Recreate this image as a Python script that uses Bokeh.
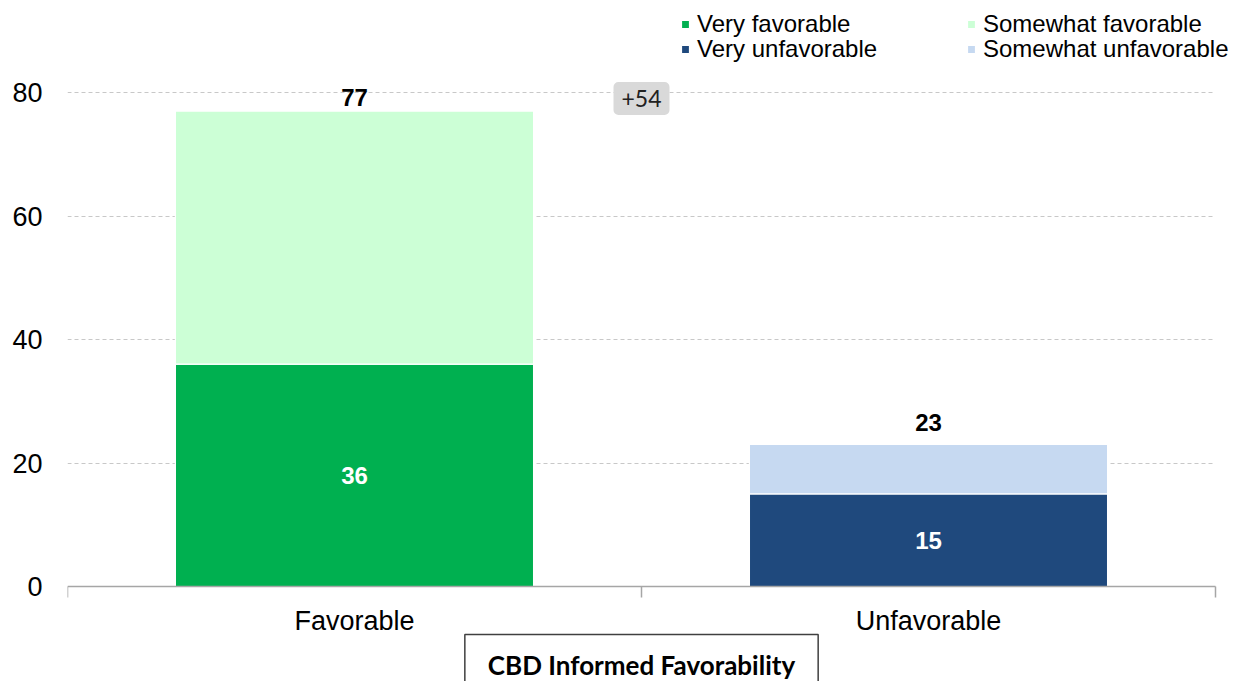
from bokeh.plotting import figure
from bokeh.models import Range1d, FixedTicker, Legend, LegendItem, Label, ColumnDataSource, LabelSet
from bokeh.core.properties import value
from bokeh.embed import file_html
from bokeh.resources import INLINE

categories = ["Favorable", "Unfavorable"]
very = [36, 15]
somewhat = [41, 8]
very_labels = ["Very favorable", "Very unfavorable"]
somewhat_labels = ["Somewhat favorable", "Somewhat unfavorable"]
y_ticks = [0, 20, 40, 60, 80]
title_text = "CBD Informed Favorability"

very_colors = ["#00B050", "#1F497D"]
somewhat_colors = ["#CCFFD6", "#C6D9F1"]

xs = [i + 0.5 for i in range(len(categories))]
totals = [a + b for a, b in zip(very, somewhat)]
mids = [v / 2 for v in very]

src = ColumnDataSource(dict(x=xs, very=very, total=totals, mid=mids,
                            vc=very_colors, sc=somewhat_colors,
                            vtxt=[str(v) for v in very], ttxt=[str(t) for t in totals],
                            toff=[5, 13]))

W, H = 1240, 681
n = len(categories)
p = figure(width=W, height=H, x_range=Range1d(0, n + 25 / 574), y_range=Range1d(-15.38, 94.9),
           output_backend="svg", toolbar_location=None,
           min_border_left=67, min_border_right=0, min_border_top=0, min_border_bottom=0)
p.outline_line_color = None
p.background_fill_color = "white"

r_very = p.vbar(x='x', bottom=0, top='very', width=0.624, fill_color='vc', line_color='white',
                line_width=1.2, source=src)
r_some = p.vbar(x='x', bottom='very', top='total', width=0.624, fill_color='sc', line_color='white',
                line_width=1.2, source=src)

# labels
p.add_layout(LabelSet(x='x', y='mid', text='vtxt', source=src, text_align='center', text_baseline='middle',
                      text_color='white', text_font=value("Liberation Sans"), text_font_style='bold',
                      text_font_size='24px'))
p.add_layout(LabelSet(x='x', y='total', text='ttxt', source=src, text_align='center', text_baseline='alphabetic',
                      y_offset='toff', text_color='black', text_font=value("Liberation Sans"),
                      text_font_style='bold', text_font_size='24px'))

diff = totals[0] - totals[1]
p.add_layout(Label(x=1.0, y=80, text=f"+{diff}", text_align='center', text_baseline='middle', y_offset=-6,
                   text_font="Lato", text_font_size="23px", text_color="#222222",
                   background_fill_color="#D9D9D9", border_line_color=None,
                   padding=(8, 8), border_radius=5))

# axes
p.xgrid.grid_line_color = None
p.ygrid.ticker = FixedTicker(ticks=y_ticks[1:])
p.ygrid.grid_line_color = "#C8C8C8"
p.ygrid.grid_line_dash = "4 3"
p.ygrid.grid_line_width = 1
try:
    p.ygrid.cross_bounds = (0, n)
except Exception:
    pass

p.yaxis.ticker = FixedTicker(ticks=y_ticks)
p.yaxis.axis_line_color = None
p.yaxis.major_tick_line_color = None
p.yaxis.minor_tick_line_color = None
p.yaxis.major_tick_out = 0
p.yaxis.major_label_text_font = "Liberation Sans"
p.yaxis.major_label_text_font_size = "27px"
p.yaxis.major_label_text_color = "#000000"
p.yaxis.major_label_standoff = 25

xa = p.xaxis[0]
xa.fixed_location = 0
xa.bounds = (0, n)
xa.ticker = FixedTicker(ticks=xs, minor_ticks=list(range(n + 1)))
xa.major_label_overrides = {x: c for x, c in zip(xs, categories)}
xa.axis_line_color = "#A6A6A6"
xa.axis_line_width = 1.5
xa.major_tick_line_color = None
xa.major_tick_out = 0
xa.minor_tick_line_color = "#A6A6A6"
xa.minor_tick_line_width = 1.5
xa.minor_tick_out = 11
xa.minor_tick_in = 0
xa.major_label_text_font = "Liberation Sans"
xa.major_label_text_font_size = "27px"
xa.major_label_text_color = "#000000"
xa.major_label_standoff = 8

# legends: one per entry, laid out in a 2x2 grid
def mk_legend(label, renderer, idx, x, row_center):
    return Legend(items=[LegendItem(label=label, renderers=[renderer], index=idx)],
                  location=(x, H - row_center - 14), orientation="vertical",
                  label_text_font="Liberation Sans", label_text_font_size="24px",
                  label_text_color="#000000", glyph_width=10, glyph_height=10,
                  label_standoff=7, spacing=0, padding=0, margin=0, label_height=24,
                  background_fill_alpha=0, border_line_color=None)

row_centers = [24, 49]
p.add_layout(mk_legend(very_labels[0], r_very, 0, 613, row_centers[0]))
p.add_layout(mk_legend(very_labels[1], r_very, 1, 613, row_centers[1]))
p.add_layout(mk_legend(somewhat_labels[0], r_some, 0, 899, row_centers[0]))
p.add_layout(mk_legend(somewhat_labels[1], r_some, 1, 899, row_centers[1]))

# title box below the axis
p.add_layout(Label(x=1.0, y=H - 664, y_units='screen', text=title_text, text_align='center',
                   text_baseline='middle', text_font="Lato", text_font_style='bold',
                   text_font_size='26px', text_color='#000000',
                   background_fill_color='white', border_line_color='#404040', border_line_width=1.5,
                   padding=(23, 14)))

open("out.html", "w").write(file_html(p, INLINE))
